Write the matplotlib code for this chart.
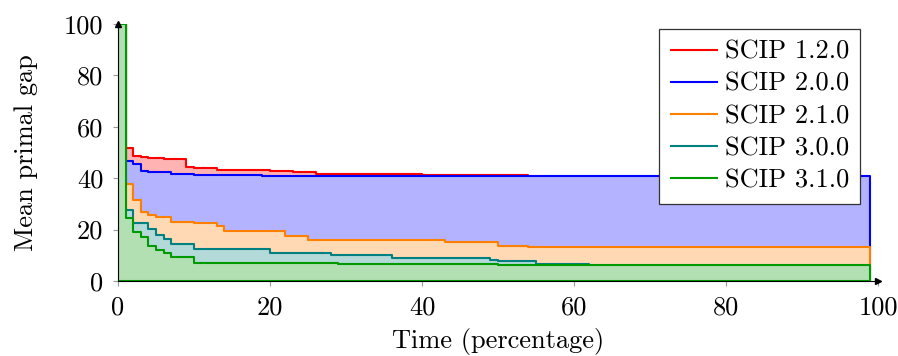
import matplotlib
matplotlib.use("Agg")
import matplotlib.pyplot as plt
from matplotlib.lines import Line2D

plt.rcParams['font.family'] = ['cmr10', 'DejaVu Serif']
plt.rcParams['axes.unicode_minus'] = False
plt.rcParams['axes.formatter.use_mathtext'] = True

# ---- data ----
labels = ["SCIP 1.2.0", "SCIP 2.0.0", "SCIP 2.1.0", "SCIP 3.0.0", "SCIP 3.1.0"]

red_t = [0, 1, 2, 3, 4, 5, 6, 9, 10, 13, 20, 23, 26, 40]
red_v = [100, 51.9, 48.8, 48.4, 48.0, 47.7, 47.3, 44.2, 43.8, 43.2, 42.9, 42.6, 41.7, 41.3]
red_end = 54

blue_t = [0, 1, 2, 3, 4, 7, 8, 10, 19]
blue_v = [100, 46.8, 45.4, 42.8, 42.5, 41.8, 41.5, 41.2, 40.7]
blue_end = 99

orange_t = [0, 1, 2, 3, 4, 5, 7, 10, 13, 14, 22, 25, 43, 50, 54]
orange_v = [100, 37.7, 31.5, 26.7, 25.7, 25.0, 23.1, 22.4, 21.4, 19.5, 17.5, 16.0, 15.2, 13.6, 13.3]
orange_end = 99

teal_t = [0, 1, 2, 4, 5, 6, 7, 10, 20, 28, 36, 49, 50, 55, 62]
teal_v = [100, 27.6, 22.7, 20.1, 17.9, 16.2, 14.3, 12.5, 10.8, 10.1, 8.9, 8.3, 7.7, 6.5, 6.0]
teal_end = 99

green_t = [0, 1, 2, 3, 4, 5, 6, 7, 10, 29, 50]
green_v = [100, 24.4, 19.2, 17.0, 13.6, 12.1, 10.8, 9.2, 6.9, 6.5, 6.1]
green_end = 99

x_ticks = [0, 20, 40, 60, 80, 100]
y_ticks = [0, 20, 40, 60, 80, 100]

series = [
    (red_t, red_v, red_end, "#ff0000", "#ffb3b3"),
    (blue_t, blue_v, blue_end, "#0000ff", "#b3b3ff"),
    (orange_t, orange_v, orange_end, "#ff8000", "#ffd9b3"),
    (teal_t, teal_v, teal_end, "#008080", "#b3d9d9"),
    (green_t, green_v, green_end, "#009900", "#b3e0b3"),
]

fig = plt.figure(figsize=(8.98, 3.56), dpi=100)
ax = fig.add_axes([118/898, 1 - 281/356, 760/898, 257/356])

FS = 19
handles = []
for (t, v, end, lc, fc), lab in zip(series, labels):
    xs = list(t) + [end]
    ys = list(v) + [v[-1]]
    ax.fill_between(xs, ys, 0, step='post', facecolor=fc, edgecolor=lc,
                    linewidth=1.5)
    handles.append(Line2D([], [], color=lc, lw=1.5, label=lab))

ax.set_xlim(0, 100)
ax.set_ylim(0, 100)
ax.set_xticks(x_ticks)
ax.set_yticks(y_ticks)
ax.set_xticklabels([str(v) for v in x_ticks])
ax.set_yticklabels([str(v) for v in y_ticks])

for s in ['top', 'right']:
    ax.spines[s].set_visible(False)
for s in ['left', 'bottom']:
    ax.spines[s].set_color('black')
    ax.spines[s].set_linewidth(0.8)
ax.tick_params(axis='both', direction='out', length=3.6, width=0.8,
               color='#999999', labelsize=FS, labelcolor='black')
ax.tick_params(axis='x', pad=7)
ax.tick_params(axis='y', pad=7)

# axis arrows
ax.plot([1], [0], marker='>', color='black', ms=5, transform=ax.transAxes,
        clip_on=False, zorder=5)
ax.plot([0], [1], marker='^', color='black', ms=5, transform=ax.transAxes,
        clip_on=False, zorder=5)

ax.set_xlabel("Time (percentage)", fontsize=FS, labelpad=6)
ax.set_ylabel("Mean primal gap", fontsize=FS, labelpad=18.5)

leg = ax.legend(handles=handles, loc='upper right',
                bbox_to_anchor=(860/898, 1 - 29/356), bbox_transform=fig.transFigure,
                fontsize=FS, frameon=True, fancybox=False, framealpha=1,
                edgecolor='#333333', handlelength=1.75, handletextpad=0.3,
                labelspacing=0.32, borderpad=0.42, borderaxespad=0)
leg.get_frame().set_linewidth(0.9)

fig.savefig("out.png", dpi=100)
